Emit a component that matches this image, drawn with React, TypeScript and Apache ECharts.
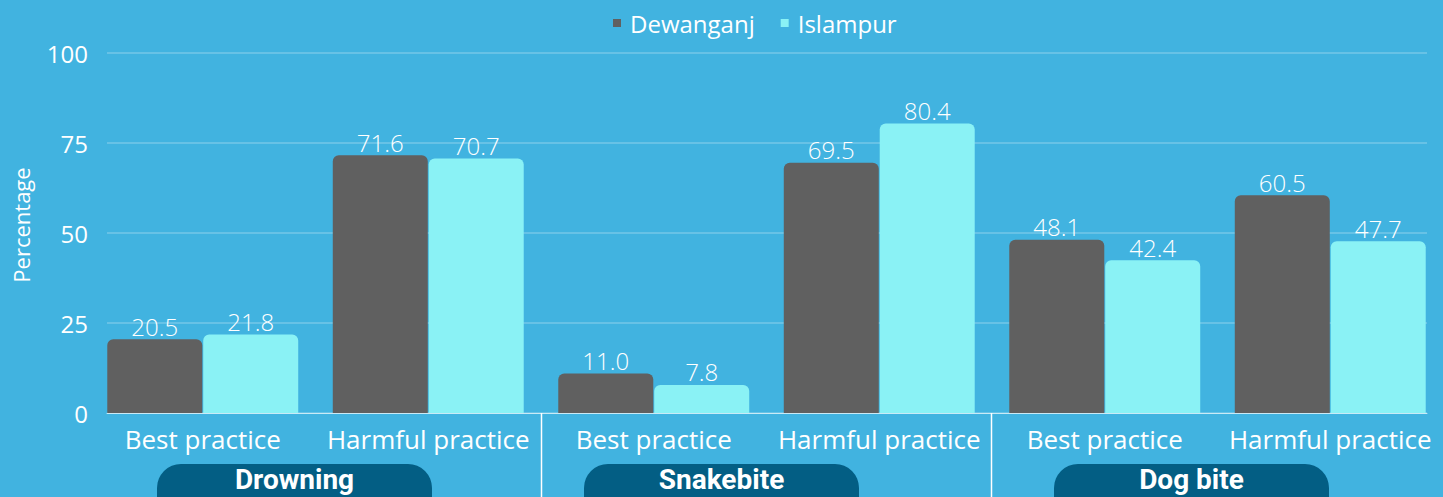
import React, { useEffect, useRef } from "react";
import * as echarts from "echarts";

const categories = [
  "Best practice",
  "Harmful practice",
  "Best practice",
  "Harmful practice",
  "Best practice",
  "Harmful practice",
];
const groups = ["Drowning", "Snakebite", "Dog bite"];
const dewanganj = [20.5, 71.6, 11.0, 69.5, 48.1, 60.5];
const islampur = [21.8, 70.7, 7.8, 80.4, 42.4, 47.7];
const yTicks = [0, 25, 50, 75, 100];
const yTitle = "Percentage";

const BG = "#41b3e0";
const DARK = "#606060";
const LIGHT = "#8af2f5";
const PILL = "#035e84";
const FONT = "'Open Sans', sans-serif";

export default function App() {
  const ref = useRef<HTMLDivElement>(null);
  useEffect(() => {
    if (!ref.current) return;
    const chart = echarts.init(ref.current, null, { renderer: "svg" });

    const valueLabel = {
      show: true,
      position: "top",
      distance: 1,
      color: "#ffffff",
      fontFamily: FONT,
      fontWeight: 300,
      fontSize: 24,
      formatter: (p: any) => Number(p.value).toFixed(1),
    };

    const pillX = [157, 584, 1054];
    const pillW = 275;
    const graphic: any[] = [];
    groups.forEach((g, i) => {
      graphic.push({
        type: "rect",
        shape: { x: pillX[i], y: 464, width: pillW, height: 60, r: 24 },
        style: { fill: PILL },
        z: 10,
      });
      graphic.push({
        type: "text",
        x: pillX[i] + pillW / 2,
        y: 479,
        style: {
          text: g,
          fill: "#ffffff",
          font: "bold 28px Roboto, sans-serif",
          align: "center",
          verticalAlign: "middle",
        },
        z: 11,
      });
    });
    [541.5, 991.5].forEach((x) => {
      graphic.push({
        type: "line",
        shape: { x1: x, y1: 413, x2: x, y2: 497 },
        style: { stroke: "#ffffff", lineWidth: 1.5 },
        z: 9,
      });
    });
    graphic.push({
      type: "text",
      x: 21,
      y: 225,
      rotation: Math.PI / 2,
      style: {
        text: yTitle,
        fill: "#ffffff",
        font: "22px 'Open Sans', sans-serif",
        align: "center",
        verticalAlign: "middle",
      },
      z: 5,
    });

    chart.setOption({
      animation: false,
      backgroundColor: BG,
      textStyle: { fontFamily: FONT },
      legend: {
        data: ["Dewanganj", "Islampur"],
        left: 608,
        top: 6,
        icon: "rect",
        itemWidth: 8,
        itemHeight: 8,
        itemGap: 26,
        textStyle: {
          color: "#ffffff",
          fontSize: 24,
          fontFamily: FONT,
          padding: [0, 0, 0, 4],
        },
      },
      grid: [
        { left: 90, right: 0, top: 53, bottom: 84 },
        { left: 107, right: 16, top: 53, bottom: 84 },
      ],
      xAxis: [
        {
          type: "category",
          gridIndex: 0,
          data: categories,
          axisLine: { show: false },
          axisTick: { show: false },
          axisLabel: {
            color: "#ffffff",
            fontSize: 26,
            fontFamily: FONT,
            margin: 13,
            interval: 0,
          },
        },
        {
          type: "value",
          gridIndex: 1,
          min: 0,
          max: 1,
          axisLine: {
            show: true,
            lineStyle: { color: "rgba(255,255,255,0.65)", width: 1 },
          },
          axisTick: { show: false },
          axisLabel: { show: false },
          splitLine: { show: false },
        },
      ],
      yAxis: [
        {
          type: "value",
          gridIndex: 0,
          min: 0,
          max: 100,
          show: false,
          splitLine: { show: false },
        },
        {
          type: "value",
          gridIndex: 1,
          min: 0,
          max: 100,
          interval: 25,
          axisLine: { show: false },
          axisTick: { show: false },
          axisLabel: {
            color: "#ffffff",
            fontSize: 24,
            fontFamily: FONT,
            margin: 19,
            formatter: (v: number) => (yTicks.includes(v) ? String(v) : ""),
          },
          splitLine: {
            lineStyle: { color: "rgba(255,255,255,0.2)", width: 2 },
          },
        },
      ],
      series: [
        {
          name: "Dewanganj",
          type: "bar",
          xAxisIndex: 0,
          yAxisIndex: 0,
          data: dewanganj,
          barWidth: 95,
          barGap: "1%",
          itemStyle: { color: DARK, borderRadius: [6, 6, 0, 0] },
          label: valueLabel,
          z: 3,
        },
        {
          name: "Islampur",
          type: "bar",
          xAxisIndex: 0,
          yAxisIndex: 0,
          data: islampur,
          barWidth: 95,
          barGap: "1%",
          itemStyle: { color: LIGHT, borderRadius: [6, 6, 0, 0] },
          label: valueLabel,
          z: 3,
        },
      ],
      graphic,
    });
    return () => chart.dispose();
  }, []);
  return (
    <div
      ref={ref}
      style={{ position: "absolute", left: 0, top: 0, width: 1443, height: 497 }}
    />
  );
}
